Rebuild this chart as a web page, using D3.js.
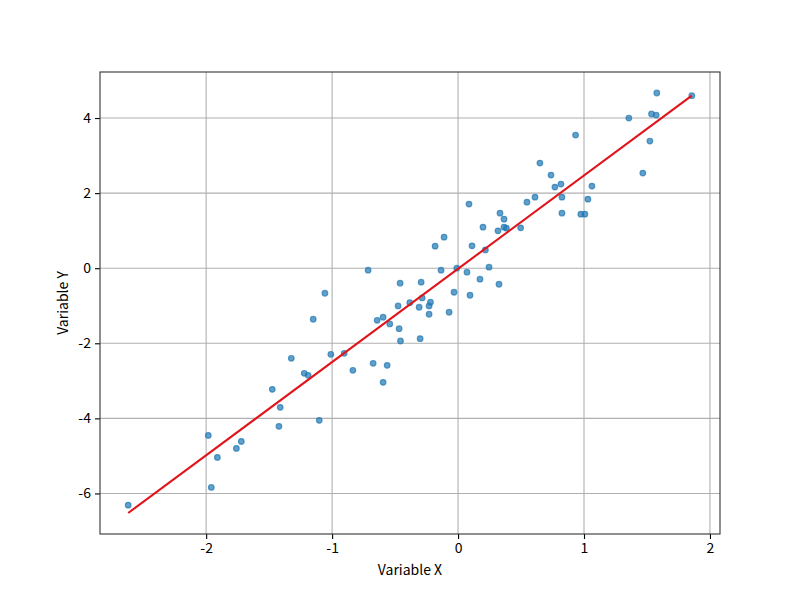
<!DOCTYPE html>
<html>
<head>
	<meta charset="utf-8">
	<title>scatter-fit</title>
	<style type="text/css">
		body { margin: 0; background: #fff; }
		text { font-family: "Noto Sans CJK SC", "Noto Sans", sans-serif; }
	</style>
</head>
<body>
<script type="text/javascript" src="https://cdn.jsdelivr.net/npm/d3@7"></script>
<script type="text/javascript">
	// data
	var xValues = [0.087, 0.333, 0.365, 1.578, 1.856, 1.356, 1.536, 1.573, 0.933, 1.523,
		0.650, 0.738, 1.467, 0.769, 0.817, 0.825, 1.063, 0.547, 0.611, 1.031,
		0.825, 0.975, 1.007, 0.198, 0.317, 0.365, 0.384, 0.497, 0.111, 0.217,
		-0.111, -0.182, -0.714, -0.135, -0.010, 0.071, 0.246, 0.174, 0.325, -0.460,
		-0.293, -1.057, -0.032, 0.095, -0.383, -0.285, -0.219, -0.230, -0.476, -0.309,
		-0.071, -0.230, -1.150, -0.642, -0.595, -0.542, -0.468, -0.301, -0.457, -1.010,
		-0.904, -0.674, -0.563, -0.835, -1.221, -1.190, -1.324, -0.595, -1.475, -1.412,
		-1.422, -1.983, -1.721, -1.760, -1.911, -1.959, -2.619, -1.102];
	var yValues = [1.707, 1.467, 1.307, 4.667, 4.595, 4.000, 4.107, 4.080, 3.547, 3.387,
		2.800, 2.480, 2.533, 2.160, 2.240, 1.893, 2.187, 1.760, 1.893, 1.840,
		1.467, 1.440, 1.440, 1.093, 0.995, 1.093, 1.067, 1.075, 0.595, 0.488,
		0.827, 0.587, -0.053, -0.053, 0.000, -0.107, 0.027, -0.293, -0.427, -0.400,
		-0.373, -0.667, -0.640, -0.720, -0.917, -0.792, -0.907, -1.005, -1.005, -1.040,
		-1.173, -1.227, -1.360, -1.387, -1.307, -1.485, -1.611, -1.877, -1.939, -2.293,
		-2.267, -2.533, -2.587, -2.720, -2.800, -2.853, -2.400, -3.040, -3.227, -3.707,
		-4.213, -4.453, -4.613, -4.800, -5.040, -5.840, -6.312, -4.053];
	var fitSlope = 2.484;
	var fitIntercept = -0.015;
	var xTicks = [-2, -1, 0, 1, 2];
	var yTicks = [-6, -4, -2, 0, 2, 4];
	var xLabel = "Variable X";
	var yLabel = "Variable Y";

	// computed
	var w = 800, h = 600;
	var margin = {top: 72, right: 80, bottom: 66, left: 100};
	var iw = w - margin.left - margin.right;
	var ih = h - margin.top - margin.bottom;

	var points = xValues.map((x, i) => ({x: x, y: yValues[i]}));
	var xExt = d3.extent(xValues);
	var fitLine = xExt.map(x => ({x: x, y: fitSlope * x + fitIntercept}));
	var yExt = d3.extent(yValues.concat(fitLine.map(d => d.y)));

	function pad(ext) {
		var s = ext[1] - ext[0];
		return [ext[0] - 0.05 * s, ext[1] + 0.05 * s];
	}

	var x = d3.scaleLinear().domain(pad(xExt)).range([0, iw]);
	var y = d3.scaleLinear().domain(pad(yExt)).range([ih, 0]);

	var svg = d3.select("body").append("svg")
		.attr("width", w).attr("height", h);
	var g = svg.append("g")
		.attr("transform", "translate(" + margin.left + "," + margin.top + ")");

	/*=====GRID=====*/
	g.append("g").selectAll("line").data(xTicks).enter().append("line")
		.attr("x1", d => x(d)).attr("x2", d => x(d))
		.attr("y1", 0).attr("y2", ih)
		.attr("stroke", "#b0b0b0").attr("stroke-width", 1.1);
	g.append("g").selectAll("line").data(yTicks).enter().append("line")
		.attr("x1", 0).attr("x2", iw)
		.attr("y1", d => y(d)).attr("y2", d => y(d))
		.attr("stroke", "#b0b0b0").attr("stroke-width", 1.1);

	/*=====POINTS=====*/
	g.append("g").selectAll("circle").data(points).enter().append("circle")
		.attr("cx", d => x(d.x))
		.attr("cy", d => y(d.y))
		.attr("r", 2.8)
		.attr("fill", "#1f77b4").attr("fill-opacity", 0.7)
		.attr("stroke", "#1f77b4").attr("stroke-opacity", 0.7)
		.attr("stroke-width", 1.2);

	/*=====FIT LINE=====*/
	g.append("path")
		.datum(fitLine)
		.attr("fill", "none")
		.attr("stroke", "#e0141a")
		.attr("stroke-width", 2.1)
		.attr("d", d3.line().x(d => x(d.x)).y(d => y(d.y)));

	/*=====AXES=====*/
	var fmt = d => String(d);
	var xAxis = g.append("g").attr("transform", "translate(0," + ih + ")")
		.call(d3.axisBottom(x).tickValues(xTicks).tickFormat(fmt).tickSizeOuter(0).tickSize(5).tickPadding(4));
	var yAxis = g.append("g")
		.call(d3.axisLeft(y).tickValues(yTicks).tickFormat(fmt).tickSizeOuter(0).tickSize(5).tickPadding(4));
	[xAxis, yAxis].forEach(a => {
		a.select(".domain").remove();
		a.selectAll(".tick line").attr("stroke", "#000").attr("stroke-width", 1.1);
		a.selectAll(".tick text").attr("fill", "#000").attr("font-size", 14)
			.style("font-family", "'Noto Sans CJK SC', 'Noto Sans', sans-serif");
	});

	// frame
	g.append("rect")
		.attr("x", 0).attr("y", 0).attr("width", iw).attr("height", ih)
		.attr("fill", "none").attr("stroke", "#333").attr("stroke-width", 1.1);

	/*=====LABELS=====*/
	svg.append("text")
		.attr("x", margin.left + iw / 2).attr("y", 575)
		.attr("text-anchor", "middle").attr("font-size", 14)
		.text(xLabel);
	svg.append("text")
		.attr("transform", "translate(68," + (margin.top + ih / 2) + ") rotate(-90)")
		.attr("text-anchor", "middle").attr("font-size", 14)
		.text(yLabel);
</script>
</body>
</html>
